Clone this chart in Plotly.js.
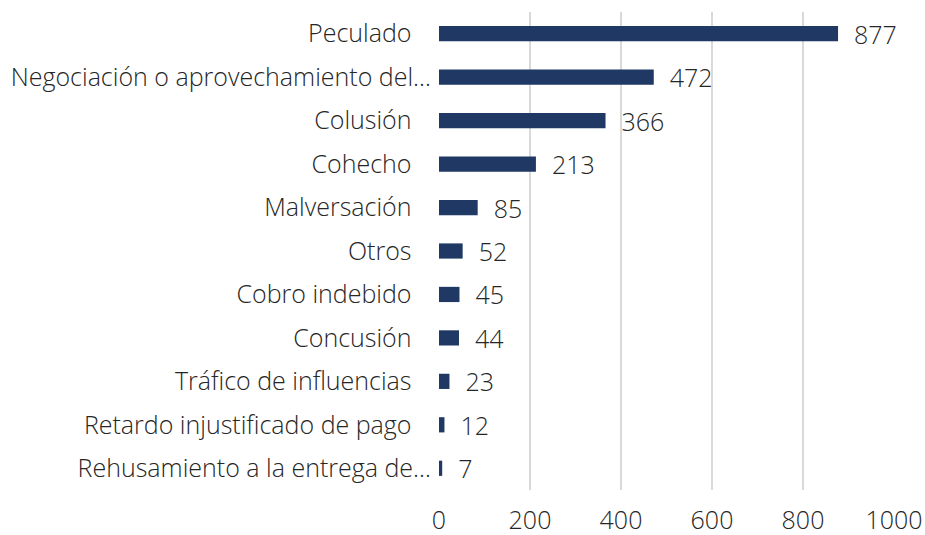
<!DOCTYPE html>
<html>
<head>
<meta charset="utf-8">
<script src="https://cdn.plot.ly/plotly-3.0.1.min.js"></script>
<style>html,body{margin:0;padding:0;background:#fff;}#chart{width:925px;height:535px;}</style>
</head>
<body>
<div id="chart"></div>
<script>
const categories = [
  "Peculado",
  "Negociación o aprovechamiento del…",
  "Colusión",
  "Cohecho",
  "Malversación",
  "Otros",
  "Cobro indebido",
  "Concusión",
  "Tráfico de influencias",
  "Retardo injustificado de pago",
  "Rehusamiento a la entrega de…"
];
const values = [877, 472, 366, 213, 85, 52, 45, 44, 23, 12, 7];
const xTicks = [0, 200, 400, 600, 800, 1000];

const fontFam = "'Open Sans', sans-serif";
const fSize = 25;
const fColor = "#262626";
// truncated labels overhang (as in the original); others get trailing padding
const tickText = categories.map(c => c.endsWith("…") ? c : c + "\u00a0\u00a0\u00a0");

const trace = {
  type: "bar",
  orientation: "h",
  x: values,
  y: categories,
  width: 0.35,
  marker: {color: "#203864"},
  text: values.map(v => "\u00a0\u00a0" + v),
  textposition: "outside",
  constraintext: "none",
  cliponaxis: false,
  textfont: {family: fontFam, size: fSize, color: fColor, weight: 300},
  hoverinfo: "none"
};
const layout = {
  width: 925, height: 535,
  margin: {l: 439, r: 31, t: 12, b: 45},
  paper_bgcolor: "#fff", plot_bgcolor: "#fff",
  showlegend: false,
  font: {family: fontFam, size: fSize, color: fColor, weight: 300},
  xaxis: {
    range: [0, 1000], tickvals: xTicks, ticktext: xTicks.map(String),
    showgrid: true, gridcolor: "#d9d9d9", gridwidth: 2,
    zeroline: false, showline: false, ticks: "",
    ticklabelstandoff: 13,
    tickfont: {family: fontFam, size: fSize, color: fColor, weight: 300}
  },
  yaxis: {
    autorange: "reversed", showgrid: false, zeroline: false, showline: false,
    ticks: "", ticklabelstandoff: 7,
    tickvals: categories, ticktext: tickText,
    tickfont: {family: fontFam, size: fSize, color: fColor, weight: 300}
  }
};
Plotly.newPlot("chart", [trace], layout, {staticPlot: true, displayModeBar: false});
</script>
</body>
</html>
